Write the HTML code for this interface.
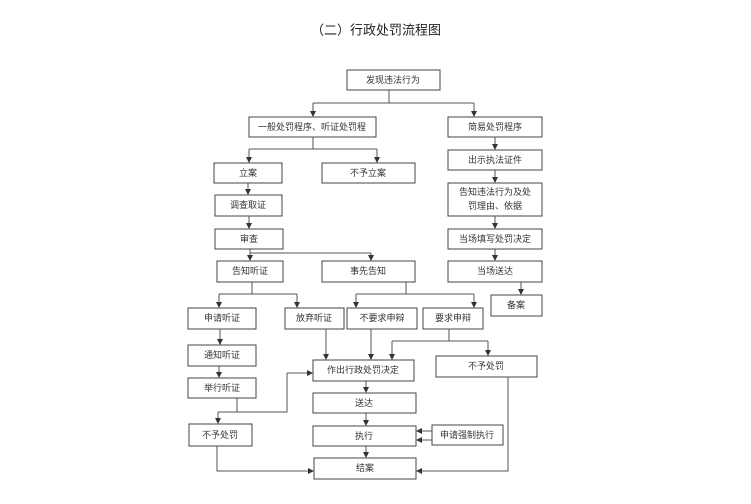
<!DOCTYPE html>
<html><head><meta charset="utf-8"><style>
html,body{margin:0;padding:0;background:#fff;width:751px;height:504px;overflow:hidden}
svg{display:block}
text{font-family:"Liberation Sans","Noto Sans CJK SC",sans-serif;font-size:9px;fill:#333;text-anchor:middle;dominant-baseline:central}
</style></head><body>
<svg width="751" height="504" viewBox="0 0 751 504" xmlns="http://www.w3.org/2000/svg">
<defs><marker id="a" markerWidth="6" markerHeight="6" refX="5" refY="3" orient="auto" markerUnits="userSpaceOnUse"><path d="M0,0 L6,3 L0,6 z" fill="#333"/></marker></defs>
<text x="376" y="30" style="font-size:13px;fill:#222">（二）行政处罚流程图</text>
<g fill="#fff" stroke="#444" stroke-width="1">
<rect x="347" y="70" width="93" height="20"/>
<rect x="249" y="117" width="127" height="20"/>
<rect x="448" y="117" width="94" height="20"/>
<rect x="214" y="163" width="68" height="20"/>
<rect x="322" y="163" width="93" height="20"/>
<rect x="448" y="150" width="94" height="20"/>
<rect x="215" y="195" width="67" height="21"/>
<rect x="448" y="183" width="94" height="33"/>
<rect x="215" y="229" width="68" height="20"/>
<rect x="448" y="229" width="94" height="20"/>
<rect x="217" y="261" width="66" height="21"/>
<rect x="322" y="261" width="93" height="21"/>
<rect x="448" y="261" width="94" height="21"/>
<rect x="491" y="295" width="51" height="21"/>
<rect x="188" y="308" width="68" height="21"/>
<rect x="285" y="308" width="59" height="21"/>
<rect x="347" y="308" width="70" height="21"/>
<rect x="423" y="308" width="60" height="21"/>
<rect x="188" y="345" width="68" height="21"/>
<rect x="188" y="378" width="68" height="20"/>
<rect x="313" y="360" width="101" height="21"/>
<rect x="436" y="356" width="101" height="21"/>
<rect x="189" y="424" width="63" height="22"/>
<rect x="313" y="393" width="103" height="20"/>
<rect x="313" y="426" width="103" height="20"/>
<rect x="432" y="425" width="71" height="20"/>
<rect x="314" y="458" width="102" height="21"/>
</g>
<g fill="none" stroke="#555" stroke-width="1">
<path d="M389 90V103M313 103H474"/>
<path d="M313 103V116" marker-end="url(#a)"/>
<path d="M474 103V116" marker-end="url(#a)"/>
<path d="M313 137V149M249 149H377"/>
<path d="M249 149V162" marker-end="url(#a)"/>
<path d="M377 149V162" marker-end="url(#a)"/>
<path d="M495 137V149" marker-end="url(#a)"/>
<path d="M495 170V182" marker-end="url(#a)"/>
<path d="M495 216V228" marker-end="url(#a)"/>
<path d="M495 249V260" marker-end="url(#a)"/>
<path d="M248 183V194" marker-end="url(#a)"/>
<path d="M249 216V228" marker-end="url(#a)"/>
<path d="M521 282V294" marker-end="url(#a)"/>
<path d="M250 249V253H371"/>
<path d="M250 253V260" marker-end="url(#a)"/>
<path d="M371 253V260" marker-end="url(#a)"/>
<path d="M252 282V294M219 294H297"/>
<path d="M219 294V307" marker-end="url(#a)"/>
<path d="M297 294V307" marker-end="url(#a)"/>
<path d="M406 282V294M356 294H474"/>
<path d="M356 294V307" marker-end="url(#a)"/>
<path d="M474 294V307" marker-end="url(#a)"/>
<path d="M220 329V344" marker-end="url(#a)"/>
<path d="M219 366V377" marker-end="url(#a)"/>
<path d="M326 329V359" marker-end="url(#a)"/>
<path d="M371 329V359" marker-end="url(#a)"/>
<path d="M449 329V341M392 341H488"/>
<path d="M392 341V359" marker-end="url(#a)"/>
<path d="M488 341V355" marker-end="url(#a)"/>
<path d="M237 398V412M218 412H287V373"/>
<path d="M218 412V423" marker-end="url(#a)"/>
<path d="M287 373H312" marker-end="url(#a)"/>
<path d="M366 381V392" marker-end="url(#a)"/>
<path d="M366 413V425" marker-end="url(#a)"/>
<path d="M366 446V457" marker-end="url(#a)"/>
<path d="M432 431H417" marker-end="url(#a)"/>
<path d="M432 440H417" marker-end="url(#a)"/>
<path d="M217 446V471H313" marker-end="url(#a)"/>
<path d="M508 377V471H417" marker-end="url(#a)"/>
</g>
<text x="393" y="80">发现违法行为</text>
<text x="312" y="127">一般处罚程序、听证处罚程</text>
<text x="495" y="127">简易处罚程序</text>
<text x="248" y="173">立案</text>
<text x="368" y="173">不予立案</text>
<text x="495" y="160">出示执法证件</text>
<text x="248" y="205">调查取证</text>
<text x="495" y="192">告知违法行为及处</text>
<text x="495" y="206">罚理由、依据</text>
<text x="249" y="239">审查</text>
<text x="495" y="239">当场填写处罚决定</text>
<text x="250" y="271">告知听证</text>
<text x="368" y="271">事先告知</text>
<text x="495" y="271">当场送达</text>
<text x="516" y="305">备案</text>
<text x="222" y="318">申请听证</text>
<text x="314" y="318">放弃听证</text>
<text x="382" y="318">不要求申辩</text>
<text x="453" y="318">要求申辩</text>
<text x="222" y="355">通知听证</text>
<text x="222" y="388">举行听证</text>
<text x="363" y="370">作出行政处罚决定</text>
<text x="486" y="366">不予处罚</text>
<text x="220" y="435">不予处罚</text>
<text x="364" y="403">送达</text>
<text x="364" y="436">执行</text>
<text x="467" y="435">申请强制执行</text>
<text x="365" y="468">结案</text>
</svg>
</body></html>
